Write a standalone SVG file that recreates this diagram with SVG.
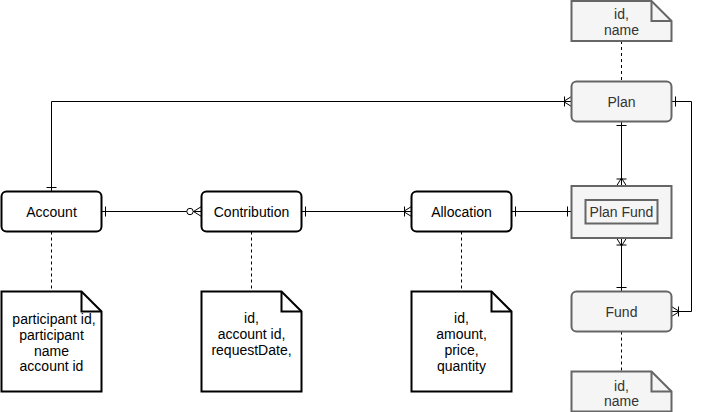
<svg xmlns="http://www.w3.org/2000/svg" width="701" height="412" viewBox="0 0 701 412">
<style>
text{font-family:"Liberation Sans",Arial,sans-serif;font-size:14px;text-anchor:middle;fill:#000}
.ent{fill:#fff;stroke:#000;stroke-width:2}
.gent{fill:#f5f5f5;stroke:#666;stroke-width:2}
.gt{fill:#333}
.note{fill:#fff;stroke:#000;stroke-width:2;stroke-linejoin:miter}
.gnote{fill:#f5f5f5;stroke:#666;stroke-width:2;stroke-linejoin:miter}
.fold{fill:none;stroke-width:2}
.link{fill:none;stroke:#000;stroke-width:1}
.dash{fill:none;stroke:#000;stroke-width:1;stroke-dasharray:3 3}
.mk{fill:none;stroke:#000;stroke-width:1}
</style>
<defs>
<marker id="one" markerUnits="userSpaceOnUse" markerWidth="20" markerHeight="20" refX="0" refY="0" orient="auto-start-reverse" overflow="visible">
<path class="mk" d="M-4,-5 L-4,5"/>
</marker>
<marker id="oneMany" markerUnits="userSpaceOnUse" markerWidth="20" markerHeight="20" refX="0" refY="0" orient="auto-start-reverse" overflow="visible">
<path class="mk" d="M-7,-5 L-7,5 M-8,0 L0,-5 M-8,0 L0,5"/>
</marker>
<marker id="zeroMany" markerUnits="userSpaceOnUse" markerWidth="20" markerHeight="20" refX="0" refY="0" orient="auto-start-reverse" overflow="visible">
<path class="mk" d="M-8,0 L0,-5 M-8,0 L0,5"/>
<circle cx="-11.5" cy="0" r="3.2" fill="#fff" stroke="#000" stroke-width="1"/>
</marker>
</defs>

<g id="connectors">
<path class="link" d="M101.5,211.5 L201.5,211.5" marker-start="url(#one)" marker-end="url(#zeroMany)"/>
<path class="link" d="M301.5,211.5 L411.5,211.5" marker-start="url(#one)" marker-end="url(#oneMany)"/>
<path class="link" d="M511.5,211.5 L571.5,211.5" marker-start="url(#one)" marker-end="url(#one)"/>
<path class="link" d="M621.5,121.5 L621.5,186" marker-start="url(#one)" marker-end="url(#oneMany)"/>
<path class="link" d="M621.5,238 L621.5,291.5" marker-start="url(#oneMany)" marker-end="url(#one)"/>
<path class="link" d="M571.5,101.5 L51.5,101.5 L51.5,191.5" marker-start="url(#oneMany)" marker-end="url(#one)"/>
<path class="link" d="M671.5,101.5 L691.5,101.5 L691.5,311.5 L671.5,311.5" marker-start="url(#one)" marker-end="url(#oneMany)"/>
<path class="dash" d="M51.5,231.5 L51.5,291.5"/>
<path class="dash" d="M251.5,231.5 L251.5,291.5"/>
<path class="dash" d="M461.5,231.5 L461.5,291.5"/>
<path class="dash" d="M621.5,41 L621.5,81.5"/>
<path class="dash" d="M621.5,331.5 L621.5,371.5"/>
</g>

<g id="account">
<rect class="ent" x="1.5" y="191.5" width="100" height="40" rx="5"/>
<text x="51.5" y="216.5">Account</text>
</g>
<g id="contribution">
<rect class="ent" x="201.5" y="191.5" width="100" height="40" rx="5"/>
<text x="251.5" y="216.5">Contribution</text>
</g>
<g id="allocation">
<rect class="ent" x="411.5" y="191.5" width="100" height="40" rx="5"/>
<text x="461.5" y="216.5">Allocation</text>
</g>
<g id="plan">
<rect class="gent" x="571.5" y="81.5" width="100" height="40" rx="5"/>
<text class="gt" x="621.5" y="106.5">Plan</text>
</g>
<g id="planfund">
<rect class="gent" x="571.5" y="186" width="100" height="52"/>
<rect class="gent" x="585.5" y="200" width="72" height="23.5"/>
<text class="gt" x="621.5" y="216.5">Plan Fund</text>
</g>
<g id="fund">
<rect class="gent" x="571.5" y="291.5" width="100" height="40" rx="5"/>
<text class="gt" x="621.5" y="316.5">Fund</text>
</g>

<g id="note-plan">
<path class="gnote" d="M571.5,1 L651.5,1 L671.5,21 L671.5,41 L571.5,41 Z"/>
<path class="fold" stroke="#666" d="M651.5,1 L651.5,21 L671.5,21"/>
<text class="gt" x="621.5" y="18.5">id,</text>
<text class="gt" x="621.5" y="34.5">name</text>
</g>
<g id="note-fund">
<path class="gnote" d="M571.5,371.5 L651.5,371.5 L671.5,391.5 L671.5,411.5 L571.5,411.5 Z"/>
<path class="fold" stroke="#666" d="M651.5,371.5 L651.5,391.5 L671.5,391.5"/>
<text class="gt" x="621.5" y="390.5">id,</text>
<text class="gt" x="621.5" y="405.5">name</text>
</g>
<g id="note-account">
<path class="note" d="M1.5,291.5 L81.5,291.5 L101.5,311.5 L101.5,391.5 L1.5,391.5 Z"/>
<path class="fold" stroke="#000" d="M81.5,291.5 L81.5,311.5 L101.5,311.5"/>
<text x="54" y="324.3">participant id,</text>
<text x="51.5" y="340">participant</text>
<text x="51.5" y="355.6">name</text>
<text x="51.5" y="371">account id</text>
</g>
<g id="note-contribution">
<path class="note" d="M201.5,291.5 L281.5,291.5 L301.5,311.5 L301.5,391.5 L201.5,391.5 Z"/>
<path class="fold" stroke="#000" d="M281.5,291.5 L281.5,311.5 L301.5,311.5"/>
<text x="251.5" y="323.3">id,</text>
<text x="251.5" y="339">account id,</text>
<text x="251.5" y="355">requestDate,</text>
</g>
<g id="note-allocation">
<path class="note" d="M411.5,291.5 L491.5,291.5 L511.5,311.5 L511.5,391.5 L411.5,391.5 Z"/>
<path class="fold" stroke="#000" d="M491.5,291.5 L491.5,311.5 L511.5,311.5"/>
<text x="461.5" y="323.3">id,</text>
<text x="461.5" y="339">amount,</text>
<text x="461.5" y="355">price,</text>
<text x="461.5" y="370.7">quantity</text>
</g>
</svg>
